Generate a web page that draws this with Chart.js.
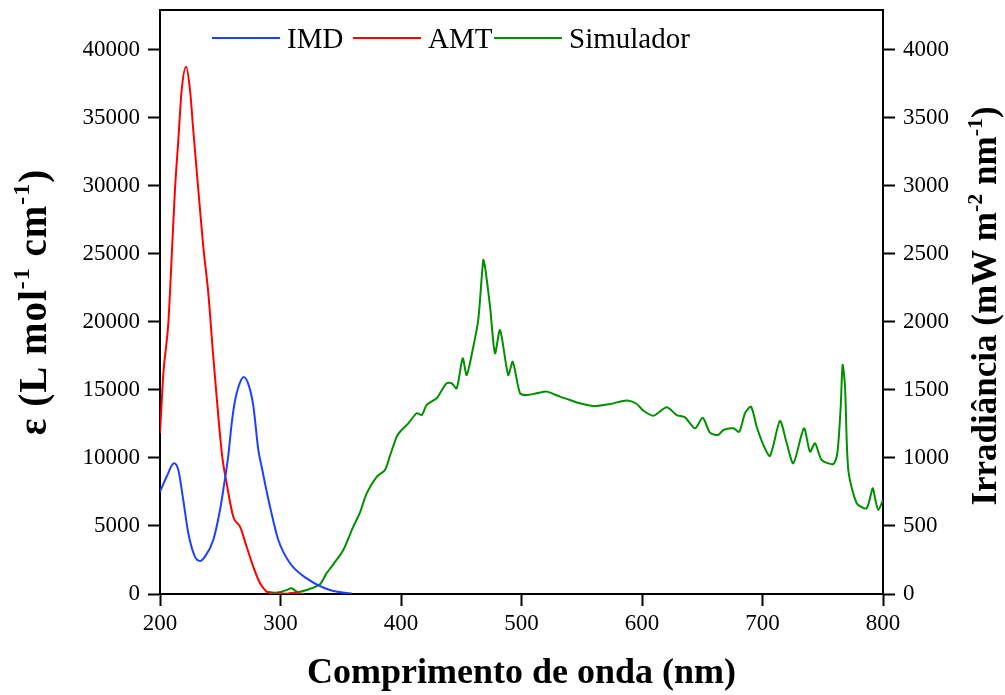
<!DOCTYPE html>
<html><head><meta charset="utf-8">
<script src="https://cdn.jsdelivr.net/npm/chart.js@4.4.0/dist/chart.umd.min.js"></script>
<style>html,body{margin:0;padding:0;background:#fff}</style>
</head><body>
<canvas id="c" width="1005" height="695"></canvas>
<script>
// ---- data ----
const seriesLabels = ['IMD', 'AMT', 'Simulador'];

const imdWavelength = [200,205.5,211.6,215.2,219.3,223.5,229,233.2,237.3,244.2,249.8,252.5,256.7,259.5,262,265,269.5,274,277.5,281.6,284.5,287.1,291.3,298.2,307.9,321.7,341,359];
const imdEpsilon    = [7520,8625,9610,9118,6912,4463,2743,2426,2743,3970,6176,7647,10200,12551,14100,15200,15950,15250,13800,10590,9300,8140,6420,3970,2257,1150,294,30];

const amtWavelength = [200,202.8,206.9,209.7,212.4,215.2,218,221.6,224.9,227.6,231.8,235.9,240.1,244.2,248.4,252,255.3,260.8,266.4,271.9,277.4,283,288.5,291.3,295,300,305,310,315,320];
const amtEpsilon    = [11816,16228,19904,24801,29706,33382,37059,38772,37059,34118,29706,25537,22110,17449,13037,9853,8140,5684,4949,3478,2007,787,169,51,0,60,20,100,40,0];

const simWavelength = [288.5,295,300,305.1,309.3,313.4,316.2,321.7,332.8,338,344,352.1,360.4,366,371.5,379.8,386.7,391,396.4,399.2,406.1,413,417.2,421.3,429.6,432.4,437.9,442.1,446.2,451.2,454.5,460,464.1,468.3,469.7,473.9,478,482.2,489,492.7,498.8,504.3,512.6,520.9,532,540.2,548.5,559.6,573.4,587.3,595.6,601.1,609.4,620.5,628.8,635.7,644,650.4,656.4,663.3,667.5,675.8,680.7,685.5,690.5,695.2,700.7,706.2,714.5,720.1,725.6,734.4,739.4,743.6,749.1,758.8,762.1,764.9,766.5,768.5,771.2,778.2,786.4,791.4,793.4,796.1,800];
const simIrradiance = [17,10,15,29,42,17,17,29,72,150,220,324,495,600,740,862,912,1020,1157,1193,1255,1329,1316,1390,1439,1476,1549,1549,1512,1733,1610,1818,2015,2456,2407,2113,1770,1941,1610,1708,1476,1463,1476,1488,1451,1426,1402,1382,1397,1422,1397,1348,1311,1373,1316,1299,1218,1296,1186,1169,1206,1218,1193,1329,1377,1230,1096,1015,1272,1108,961,1218,1046,1108,985,956,1034,1377,1684,1524,912,667,630,777,704,618,691];

const xTickValues     = [200,300,400,500,600,700,800];
const leftTickValues  = [0,5000,10000,15000,20000,25000,30000,35000,40000];
const rightTickValues = [0,500,1000,1500,2000,2500,3000,3500,4000];
const xMin = 200, xMax = 800, leftMax = 42941, rightMax = 4294;

const xTitle = 'Comprimento de onda (nm)';
const leftTitle = [['ε (L mol', 0], ['-1', 1], [' cm', 0], ['-1', 1], [')', 0]];
const rightTitle = [['Irradiância (mW m', 0], ['-2', 1], [' nm', 0], ['-1', 1], [')', 0]];

const pts = (xs, ys) => xs.map((x, i) => ({x, y: ys[i]}));
const setTicks = vals => s => { s.ticks = vals.map(v => ({value: v})); };

const SERIF = '"Liberation Serif", "Times New Roman", serif';

function drawRich(ctx, parts, cx, cy, size, spacing) {
  ctx.save();
  ctx.translate(cx, cy);
  ctx.rotate(-Math.PI / 2);
  if (spacing) ctx.letterSpacing = spacing + 'px';
  const big = 'bold ' + size + 'px ' + SERIF;
  const small = 'bold ' + Math.round(size * 0.62) + 'px ' + SERIF;
  let total = 0;
  parts.forEach(([t, s]) => { ctx.font = s ? small : big; total += ctx.measureText(t).width; });
  let x = -total / 2;
  ctx.fillStyle = '#000';
  ctx.textBaseline = 'alphabetic';
  parts.forEach(([t, s]) => {
    ctx.font = s ? small : big;
    ctx.fillText(t, x, s ? size * 0.35 - size * 0.42 : size * 0.35);
    x += ctx.measureText(t).width;
  });
  ctx.restore();
}

const decor = {
  id: 'decor',
  afterDraw(chart) {
    const {ctx, chartArea: a} = chart;
    ctx.save();
    ctx.strokeStyle = '#000';
    ctx.lineWidth = 2;
    ctx.beginPath();
    ctx.moveTo(a.left - 1, a.top);
    ctx.lineTo(a.right + 1, a.top);
    ctx.stroke();
    // legend
    const starts = [212, 353, 494];
    ctx.font = '29px ' + SERIF;
    ctx.textBaseline = 'alphabetic';
    chart.data.datasets.forEach((ds, i) => {
      const x0 = starts[i];
      ctx.strokeStyle = ds.borderColor;
      ctx.lineWidth = 2;
      ctx.beginPath();
      ctx.moveTo(x0, 38);
      ctx.lineTo(x0 + 68, 38);
      ctx.stroke();
      ctx.fillStyle = '#000';
      ctx.fillText(ds.label, x0 + 75, 48);
    });
    ctx.restore();
    drawRich(ctx, leftTitle, 32, 302, 39, 1);
    drawRich(ctx, rightTitle, 984, 306, 35, 0);
  }
};

const axisCommon = {
  grid: {drawOnChartArea: false, drawTicks: true, tickLength: 12, tickWidth: 2, tickColor: '#000'},
  border: {display: true, color: '#000', width: 2},
};
const tickFont = {family: SERIF, size: 23};
const plain = v => String(v);

new Chart(document.getElementById('c'), {
  type: 'line',
  data: {
    datasets: [
      {label: seriesLabels[0], data: pts(imdWavelength, imdEpsilon), yAxisID: 'y', borderColor: '#2040ff', borderWidth: 2, pointRadius: 0, cubicInterpolationMode: 'monotone', fill: false},
      {label: seriesLabels[1], data: pts(amtWavelength, amtEpsilon), yAxisID: 'y', borderColor: '#ff0000', borderWidth: 2, pointRadius: 0, cubicInterpolationMode: 'monotone', fill: false},
      {label: seriesLabels[2], data: pts(simWavelength, simIrradiance), yAxisID: 'y2', borderColor: '#009000', borderWidth: 2, pointRadius: 0, tension: 0.25, fill: false},
    ]
  },
  options: {
    responsive: false,
    animation: false,
    layout: {padding: {top: 10, left: 0, right: 0, bottom: 0}},
    plugins: {legend: {display: false}, tooltip: {enabled: false}},
    scales: {
      x: {
        type: 'linear', position: 'bottom', min: xMin, max: xMax,
        ticks: {color: '#000', font: tickFont, padding: 4, maxRotation: 0, autoSkip: false, callback: plain},
        ...axisCommon,
        title: {display: true, text: xTitle, color: '#000', font: {family: SERIF, size: 36, weight: 'bold'}, padding: {top: 0, bottom: 0}},
        afterBuildTicks: setTicks(xTickValues),
        afterFit(s) { s.height = 101; s.paddingLeft = 0; s.paddingRight = 0; }
      },
      y: {
        type: 'linear', position: 'left', min: 0, max: leftMax,
        ticks: {color: '#000', font: tickFont, padding: 8, autoSkip: false, callback: plain},
        ...axisCommon,
        afterBuildTicks: setTicks(leftTickValues),
        afterFit(s) { s.width = 160; s.paddingTop = 0; s.paddingBottom = 0; }
      },
      y2: {
        type: 'linear', position: 'right', min: 0, max: rightMax,
        ticks: {color: '#000', font: tickFont, padding: 8, autoSkip: false, callback: plain},
        ...axisCommon,
        afterBuildTicks: setTicks(rightTickValues),
        afterFit(s) { s.width = 122; s.paddingTop = 0; s.paddingBottom = 0; }
      }
    }
  },
  plugins: [decor]
});
</script>
</body></html>
